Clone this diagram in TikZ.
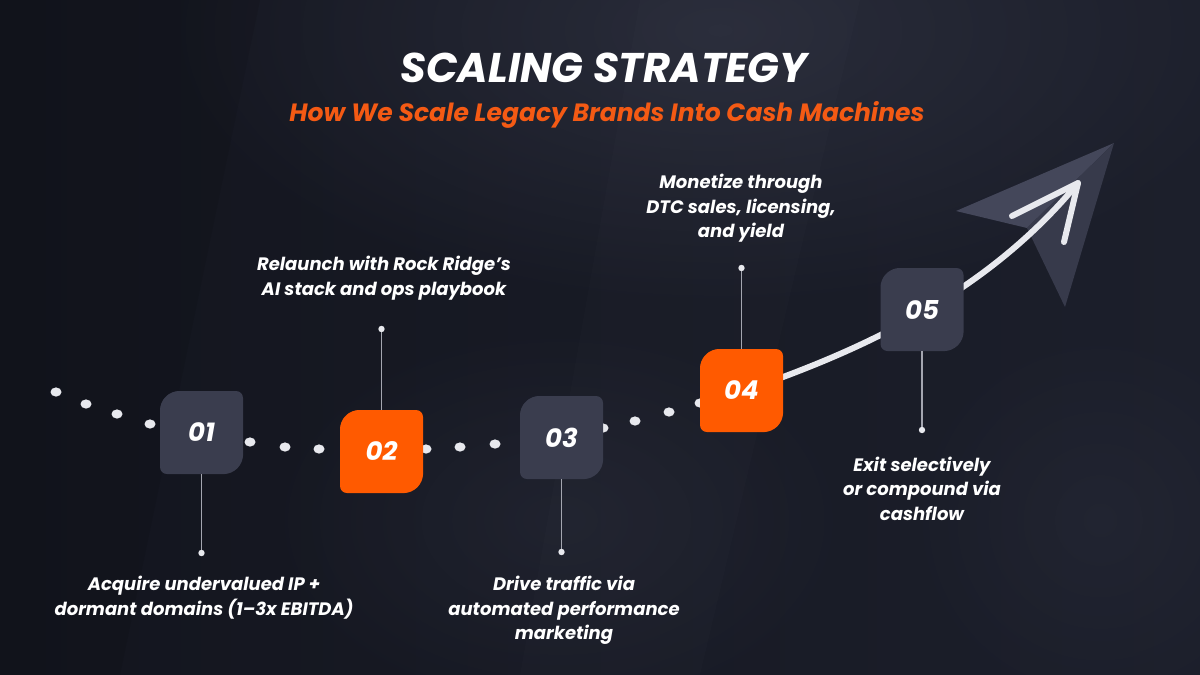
\documentclass[tikz,border=0pt]{standalone}
\usepackage{fontspec}
\setmainfont{Poppins}
\usetikzlibrary{fadings}
\tikzfading[name=softglow, inner color=transparent!0, outer color=transparent!100]
\definecolor{bgL}{HTML}{13151E}
\definecolor{bgR}{HTML}{1C1F2B}
\definecolor{glow}{HTML}{353848}
\definecolor{boxG}{HTML}{3A3D4E}
\definecolor{boxO}{HTML}{FF5A00}
\definecolor{subO}{HTML}{F45A14}
\definecolor{connC}{HTML}{A4A6B0}
\definecolor{dotC}{HTML}{E8E9EE}
\definecolor{planeA}{HTML}{44475A}
\definecolor{planeB}{HTML}{373A4B}
\tikzset{
  numtxt/.style={text=white, font=\fontsize{26}{26}\selectfont\bfseries\itshape},
  lbl/.style={text=white, align=center, inner sep=0, font=\fontsize{18}{24.5}\selectfont\bfseries\itshape},
  conn/.style={draw=connC, line width=1.3},
  pin/.style={fill=dotC},
  dotst/.style={fill=dotC},
  boxnode/.style={minimum width=83, minimum height=83, inner sep=0},
  growth/.style={draw=dotC, line width=6, line cap=round, line join=round}
}
\newcommand\chbox[3]{%
  \begin{scope}[shift={(#1,#2)}]
    \fill[#3, rounded corners=7] (-30,-41.5) -- (41.5,-41.5) -- (41.5,30) -- (30,41.5) -- (-41.5,41.5) -- (-41.5,-30) -- cycle;
  \end{scope}}
\begin{document}
\begin{tikzpicture}[x=1pt,y=-1pt]
\useasboundingbox (0,0) rectangle (1200,675);
% background
\shade[left color=bgL, right color=bgR] (0,0) rectangle (1200,675);
\fill[glow, opacity=0.6, path fading=softglow] (720,30) ellipse (560 and 280);
\fill[glow, opacity=0.3, path fading=softglow] (560,520) ellipse (300 and 200);
\fill[glow, opacity=0.25, path fading=softglow] (1100,520) ellipse (200 and 200);
\fill[white, opacity=0.012] (640,0) -- (860,0) -- (700,675) -- (520,675) -- cycle;
\fill[black, opacity=0.08] (0,0) -- (260,0) -- (120,675) -- (0,675) -- cycle;

% titles
\node[font=\fontsize{41.5}{41.5}\selectfont\bfseries\itshape, text=white] (title) at (604,68) {SCALING STRATEGY};
\node[font=\fontsize{25}{25}\selectfont\bfseries\itshape, text=subO] (sub) at (607,115) {How We Scale Legacy Brands Into Cash Machines};

% paper plane
\fill[planeA] (956,211) -- (1114,143) -- (1027,228) -- cycle;
\fill[planeB] (1027,228) -- (1114,143) -- (1065,307) -- cycle;

% dotted path
\foreach \px/\py in {56/392, 86/404, 117/414, 150/424, 250/442, 285/447, 319/449, 426/449, 460/447, 495/444, 603/428, 635/421, 669/412, 700/403}
  \fill[dotst] (\px,\py) ellipse (5.5 and 4.6);

% growth curve and arrow
\coordinate (tip) at (1078,183);
\coordinate (barbL) at (1012,216);
\coordinate (barbR) at (1064,242);
\coordinate (cstart) at (775,380);
\draw[growth] (cstart) .. controls (870,345) and (990,290) .. (tip);
\draw[growth] (barbL) -- (tip) -- (barbR);

% boxes
\chbox{201.5}{432.5}{boxG}
\node[boxnode, numtxt] (n01) at (201.5,432.5) {01};
\chbox{381.5}{451.5}{boxO}
\node[boxnode, numtxt] (n02) at (381.5,451.5) {02};
\chbox{561.5}{437.5}{boxG}
\node[boxnode, numtxt] (n03) at (561.5,437.5) {03};
\chbox{741.5}{390.5}{boxO}
\node[boxnode, numtxt] (n04) at (741.5,390.5) {04};
\chbox{922}{309.5}{boxG}
\node[boxnode, numtxt] (n05) at (922,309.5) {05};

% pins
\coordinate (p01) at (201.5,553);
\coordinate (p02) at (381.5,329);
\coordinate (p03) at (561.5,552);
\coordinate (p04) at (741.5,268);
\coordinate (p05) at (922,430);
\draw[conn] (n01.south) -- (p01);
\draw[conn] (n02.north) -- (p02);
\draw[conn] (n03.south) -- (p03);
\draw[conn] (n04.north) -- (p04);
\draw[conn] (n05.south) -- (p05);
\foreach \p in {p01,p02,p03,p04,p05} \fill[pin] (\p) circle (3.2);

% labels
\node[lbl] (t01) at (204,597.5) {Acquire undervalued IP +\\dormant domains (1–3x EBITDA)};
\node[lbl] (t02) at (384,278) {Relaunch with Rock Ridge’s\\AI stack and ops playbook};
\node[lbl] (t03) at (564,610.5) {Drive traffic via\\automated performance\\marketing};
\node[lbl] (t04) at (741,208.5) {Monetize through\\DTC sales, licensing,\\and yield};
\node[lbl] (t05) at (922,488.5) {Exit selectively\\or compound via\\cashflow};
\end{tikzpicture}
\end{document}
